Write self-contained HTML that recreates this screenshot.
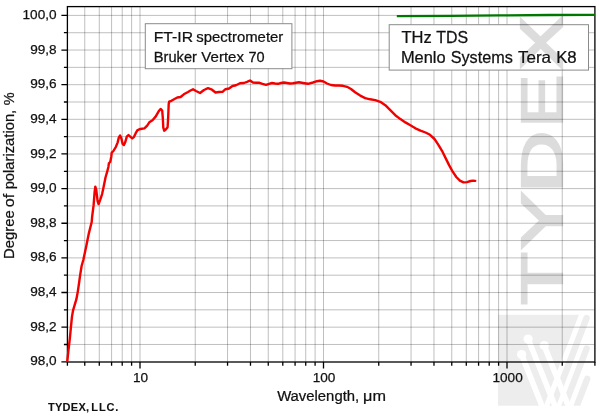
<!DOCTYPE html><html><head><meta charset="utf-8"><style>
html,body{margin:0;padding:0;background:#fff;}
svg{display:block;}
text{font-family:"Liberation Sans",Arial,sans-serif;fill:#111;stroke:#111;stroke-width:0.25px;}
</style></head><body>
<svg width="600" height="418" viewBox="0 0 600 418">
<rect width="600" height="418" fill="#fff"/>
<path d="M84.76 6.74V361.80M99.29 6.74V361.80M111.58 6.74V361.80M122.22 6.74V361.80M131.60 6.74V361.80M140.00 6.74V361.80M195.24 6.74V361.80M227.55 6.74V361.80M250.48 6.74V361.80M268.26 6.74V361.80M282.79 6.74V361.80M295.08 6.74V361.80M305.72 6.74V361.80M315.10 6.74V361.80M323.50 6.74V361.80M378.74 6.74V361.80M411.05 6.74V361.80M433.98 6.74V361.80M451.76 6.74V361.80M466.29 6.74V361.80M478.58 6.74V361.80M489.22 6.74V361.80M498.60 6.74V361.80M507.00 6.74V361.80M562.24 6.74V361.80M66.98 344.48H594.55M66.98 327.16H594.55M66.98 309.84H594.55M66.98 292.52H594.55M66.98 275.20H594.55M66.98 257.88H594.55M66.98 240.56H594.55M66.98 223.24H594.55M66.98 205.92H594.55M66.98 188.60H594.55M66.98 171.28H594.55M66.98 153.96H594.55M66.98 136.64H594.55M66.98 119.32H594.55M66.98 102.00H594.55M66.98 84.68H594.55M66.98 67.36H594.55M66.98 50.04H594.55M66.98 32.72H594.55M66.98 15.40H594.55" stroke="#000" stroke-opacity="0.25" stroke-width="1" fill="none"/>
<rect x="145.3" y="23.7" width="146.6" height="45" fill="#fff" stroke="#8a8a8a" stroke-width="1"/>
<rect x="389.2" y="24.7" width="199.3" height="45.4" fill="#fff" stroke="#8a8a8a" stroke-width="1"/>
<defs><mask id="lm" maskUnits="userSpaceOnUse" x="0" y="0" width="600" height="418">
<rect x="0" y="0" width="600" height="418" fill="#fff"/>
<circle cx="528.1" cy="339.0" r="4.6" fill="#000"/><path d="M528.1 339.0 L556.11 408.7" stroke="#000" stroke-width="5.6"/>
<circle cx="544.2" cy="345.6" r="4.6" fill="#000"/><path d="M544.2 345.6 L569.44 408.7" stroke="#000" stroke-width="5.6"/>
<circle cx="521.6" cy="354.6" r="4.6" fill="#000"/><path d="M521.6 354.6 L543.06 408.7" stroke="#000" stroke-width="5.6"/>
</mask>
<clipPath id="lc"><rect x="490" y="300" width="110" height="105.7"/></clipPath>
<clipPath id="xc"><rect x="500" y="15.6" width="100" height="400"/></clipPath>
</defs>
<g clip-path="url(#lc)"><g mask="url(#lm)" fill="#000" stroke="#000" opacity="0.072">
<path d="M497.9 314.8 L578.9 314.8 L541.98 410.7 L497.9 410.7 Z" stroke="none"/>
<path d="M586.6 318.0 L549.76 413.7" stroke-width="6.4" stroke-linecap="round" fill="none"/>
<path d="M586.6 348.6 L561.54 413.7" stroke-width="6.4" stroke-linecap="round" fill="none"/>
<path d="M587.2 378.8 L573.76 413.7" stroke-width="6.4" stroke-linecap="round" fill="none"/>
</g></g>
<g opacity="0.135" fill="#000" stroke="#000" stroke-width="2.4" stroke-linejoin="miter" style="font-family:'Liberation Sans',Arial,sans-serif">
<text style="fill:#000;stroke:#000;stroke-width:2.4px" font-size="60.0" transform="translate(561.64,304.67) rotate(-90) scale(1.4301,0.9707)">T</text>
<text style="fill:#000;stroke:#000;stroke-width:2.4px" font-size="60.0" transform="translate(561.64,249.17) rotate(-90) scale(1.4329,0.9707)">Y</text>
<text style="fill:#000;stroke:#000;stroke-width:2.4px" font-size="60.0" transform="translate(561.64,192.74) rotate(-90) scale(1.4346,0.9707)">D</text>
<text style="fill:#000;stroke:#000;stroke-width:2.4px" font-size="60.0" transform="translate(561.64,127.74) rotate(-90) scale(1.3288,0.9707)">E</text>
<text style="fill:#000;stroke:#000;stroke-width:2.4px" font-size="60.0" transform="translate(561.83,69.64) rotate(-90) scale(1.3374,0.9753)">X</text>
</g>
<rect x="67.4" y="6.6" width="527.50" height="355.40" fill="none" stroke="#000" stroke-width="1.3"/>
<path d="M61.40 361.80H67.40M63.90 344.48H67.40M61.40 327.16H67.40M63.90 309.84H67.40M61.40 292.52H67.40M63.90 275.20H67.40M61.40 257.88H67.40M63.90 240.56H67.40M61.40 223.24H67.40M63.90 205.92H67.40M61.40 188.60H67.40M63.90 171.28H67.40M61.40 153.96H67.40M63.90 136.64H67.40M61.40 119.32H67.40M63.90 102.00H67.40M61.40 84.68H67.40M63.90 67.36H67.40M61.40 50.04H67.40M63.90 32.72H67.40M61.40 15.40H67.40M84.76 362.00V365.80M99.29 362.00V365.80M111.58 362.00V365.80M122.22 362.00V365.80M131.60 362.00V365.80M140.00 362.00V368.50M195.24 362.00V365.80M227.55 362.00V365.80M250.48 362.00V365.80M268.26 362.00V365.80M282.79 362.00V365.80M295.08 362.00V365.80M305.72 362.00V365.80M315.10 362.00V365.80M323.50 362.00V368.50M378.74 362.00V365.80M411.05 362.00V365.80M433.98 362.00V365.80M451.76 362.00V365.80M466.29 362.00V365.80M478.58 362.00V365.80M489.22 362.00V365.80M498.60 362.00V365.80M507.00 362.00V368.50M562.24 362.00V365.80M594.90 362.00V365.80M67.40 362.00V365.80" stroke="#000" stroke-width="1.3" fill="none"/>
<path d="M67.3 361.0 L68.5 349.8 L69.8 338.9 L71.0 326.4 L72.0 316.4 L73.0 310.7 L74.4 305.9 L76.4 299.2 L77.8 291.6 L79.2 282.0 L80.1 275.4 L81.6 266.0 L83.3 260.0 L86.3 245.9 L88.7 233.9 L91.7 222.0 L92.1 217.0 L93.6 205.2 L94.6 192.1 L95.3 186.6 L96.3 190.1 L97.6 201.1 L98.6 204.1 L100.1 200.1 L102.1 194.1 L103.6 187.0 L105.5 177.5 L107.4 170.8 L108.4 167.0 L108.9 163.2 L110.3 161.7 L111.3 156.5 L111.7 152.7 L113.4 151.0 L115.9 146.8 L117.6 142.6 L118.8 137.6 L120.1 135.5 L121.4 138.4 L122.6 143.8 L123.9 145.1 L125.1 142.6 L126.8 136.7 L128.5 135.0 L130.2 136.7 L132.2 138.4 L133.9 137.1 L135.6 133.4 L137.3 130.4 L139.4 129.2 L141.9 128.8 L144.4 128.4 L147.2 125.6 L149.3 122.3 L152.5 120.2 L155.8 116.4 L158.5 111.6 L160.6 108.9 L162.2 110.5 L162.8 118.0 L163.3 127.7 L164.2 130.7 L166.0 129.3 L167.6 127.2 L168.2 116.9 L168.7 104.0 L169.2 101.6 L171.4 100.8 L174.1 99.2 L177.3 97.5 L180.6 97.0 L183.8 94.3 L188.0 92.0 L190.5 90.5 L193.0 89.3 L196.0 91.0 L200.0 93.0 L204.0 90.0 L208.0 88.2 L212.0 89.7 L215.5 92.5 L219.0 92.0 L222.5 91.8 L225.5 89.2 L229.0 88.5 L232.5 86.0 L236.0 85.3 L240.0 83.3 L244.0 83.0 L247.0 81.8 L250.0 80.5 L253.0 82.5 L256.0 82.8 L259.5 82.8 L262.5 83.8 L266.0 84.8 L269.0 83.8 L272.0 83.0 L275.0 83.5 L278.0 83.8 L281.0 83.0 L284.0 82.5 L287.0 83.0 L290.0 83.5 L293.0 83.3 L296.0 82.7 L299.0 82.3 L303.0 83.0 L308.0 83.8 L313.0 82.5 L317.0 81.2 L320.0 80.8 L323.5 81.5 L327.0 83.5 L331.0 85.0 L335.0 85.5 L339.0 85.5 L343.0 85.8 L347.0 86.8 L351.0 89.0 L355.1 92.3 L360.2 95.6 L365.2 98.1 L370.2 99.3 L375.2 100.1 L380.3 101.8 L385.3 105.2 L390.3 110.2 L395.3 115.2 L400.4 119.1 L405.4 122.4 L410.4 125.3 L415.4 128.3 L420.5 130.6 L425.5 132.5 L430.0 134.8 L434.5 139.0 L438.4 144.8 L442.0 150.8 L445.5 157.9 L449.1 165.1 L452.7 171.7 L456.3 177.0 L459.9 180.6 L463.5 182.4 L467.0 182.1 L470.6 181.0 L473.0 180.6 L475.2 180.9" stroke="#f20000" stroke-width="2.4" fill="none" stroke-linejoin="round" stroke-linecap="round"/>
<path d="M396.8 16.2 L450 15.8 L500 15.4 L550 15.0 L594.9 14.8" stroke="#007800" stroke-width="2.3" fill="none"/>
<text x="56.6" y="365.40" font-size="13.6" text-anchor="end">98,0</text>
<text x="56.6" y="330.76" font-size="13.6" text-anchor="end">98,2</text>
<text x="56.6" y="296.12" font-size="13.6" text-anchor="end">98,4</text>
<text x="56.6" y="261.48" font-size="13.6" text-anchor="end">98,6</text>
<text x="56.6" y="226.84" font-size="13.6" text-anchor="end">98,8</text>
<text x="56.6" y="192.20" font-size="13.6" text-anchor="end">99,0</text>
<text x="56.6" y="157.56" font-size="13.6" text-anchor="end">99,2</text>
<text x="56.6" y="122.92" font-size="13.6" text-anchor="end">99,4</text>
<text x="56.6" y="88.28" font-size="13.6" text-anchor="end">99,6</text>
<text x="56.6" y="53.64" font-size="13.6" text-anchor="end">99,8</text>
<text x="56.6" y="19.00" font-size="13.6" text-anchor="end">100,0</text>
<text x="140.60" y="382.2" font-size="13.6" text-anchor="middle">10</text>
<text x="324.10" y="382.2" font-size="13.6" text-anchor="middle">100</text>
<text x="507.60" y="382.2" font-size="13.6" text-anchor="middle">1000</text>
<text transform="translate(153.74,41.8) scale(1,0.942)" font-size="15.74">FT-IR</text>
<text transform="translate(196.35,41.8) scale(1,0.995)" font-size="14.91">spectrometer</text>
<text transform="translate(153.83,61.6) scale(1,1.002)" font-size="14.66">Bruker</text>
<text transform="translate(201.32,61.6) scale(1,0.976)" font-size="15.04">Vertex</text>
<text transform="translate(248.47,61.6) scale(1,1.012)" font-size="14.51">70</text>
<text transform="translate(401.47,42.7) scale(1,0.975)" font-size="16.54">THz</text>
<text transform="translate(436.18,42.7) scale(1,1.014)" font-size="15.92">TDS</text>
<text transform="translate(400.89,63.0) scale(1,0.991)" font-size="16.43">Menlo</text>
<text transform="translate(450.67,63.0) scale(1,1.004)" font-size="16.22">Systems</text>
<text transform="translate(517.96,63.0) scale(1,0.958)" font-size="16.99">Tera</text>
<text transform="translate(556.15,63.0) scale(1,0.968)" font-size="16.82">K8</text>
<text transform="translate(277.13,400.7) scale(1,0.958)" font-size="14.86">Wavelength,</text>
<text transform="translate(363.04,400.7) scale(1,0.930)" font-size="16.24">μm</text>
<text transform="translate(47.89,410.7) scale(1,1.0)" font-size="11.0" letter-spacing="0.30" font-weight="bold" style="stroke-width:0.1px">TYDEX,</text>
<text transform="translate(91.28,410.7) scale(1,1.0)" font-size="11.0" letter-spacing="0.90" font-weight="bold" style="stroke-width:0.1px">LLC.</text>
<text transform="translate(14.4,258.99) rotate(-90) scale(1,0.948)" font-size="14.87">Degree</text>
<text transform="translate(14.4,207.25) rotate(-90) scale(1,0.869)" font-size="16.23">of</text>
<text transform="translate(14.4,189.36) rotate(-90) scale(1,0.954)" font-size="14.77">polarization,</text>
<text transform="translate(14.4,105.21) rotate(-90) scale(1,0.972)" font-size="14.51">%</text>
</svg></body></html>
